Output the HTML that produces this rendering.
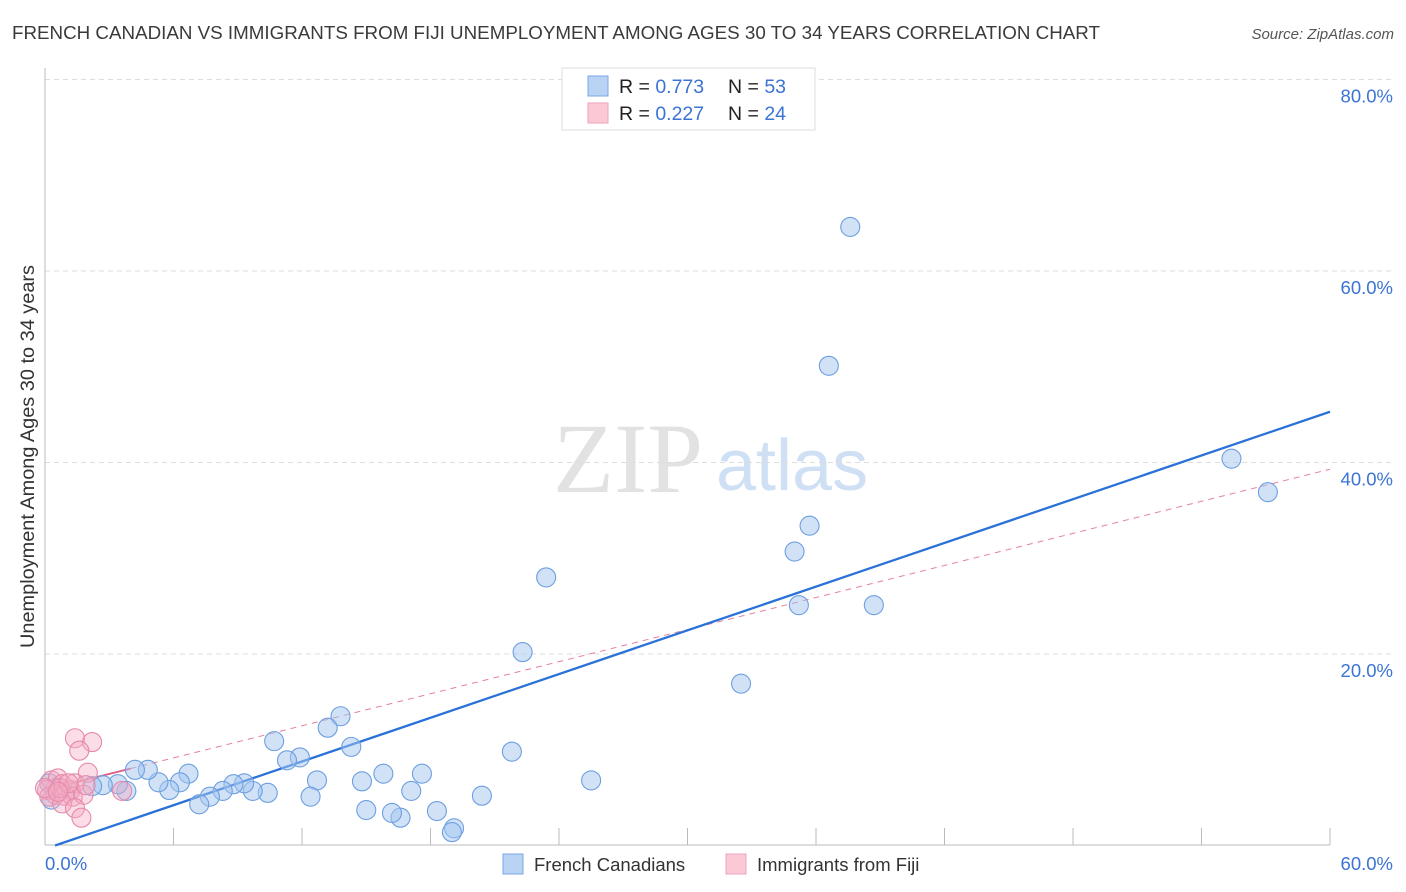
<!DOCTYPE html>
<html><head><meta charset="utf-8"><style>
body{margin:0;background:#fff;font-family:"Liberation Sans",sans-serif}
svg{display:block}
</style></head><body>
<svg id="chart" width="1406" height="892" viewBox="0 0 1406 892" xmlns="http://www.w3.org/2000/svg">
<text x="12" y="39" font-size="18.5" fill="#3a3a3a" textLength="1088" lengthAdjust="spacingAndGlyphs" font-family="Liberation Sans, sans-serif">FRENCH CANADIAN VS IMMIGRANTS FROM FIJI UNEMPLOYMENT AMONG AGES 30 TO 34 YEARS CORRELATION CHART</text>
<text x="1394" y="39" font-size="15" font-style="italic" fill="#555" text-anchor="end">Source: ZipAtlas.com</text>
<g>
<text x="553" y="492" font-size="100" font-family="Liberation Serif, serif" fill="#e2e2e2">ZIP</text>
<text x="716" y="490" font-size="72" fill="#cfe0f5">atlas</text>
</g>
<g id="grid"></g>
<g id="axes"></g>
<g id="lines"></g>
<g id="points"></g>
<text transform="translate(34,648) rotate(-90)" font-size="19" fill="#333" textLength="383" lengthAdjust="spacingAndGlyphs">Unemployment Among Ages 30 to 34 years</text>
<g>
<rect x="562" y="68" width="253" height="62" fill="#fff" stroke="#ddd"/>
<rect x="588" y="76" width="20" height="20" fill="#b9d3f5" stroke="#7aa7e6"/>
<rect x="588" y="103" width="20" height="20" fill="#fbc8d6" stroke="#eea3ba"/>
<text x="619" y="93" font-size="19.5" fill="#222">R = <tspan fill="#3b74d4">0.773</tspan><tspan x="728">N = </tspan><tspan fill="#3b74d4">53</tspan></text>
<text x="619" y="120" font-size="19.5" fill="#222">R = <tspan fill="#3b74d4">0.227</tspan><tspan x="728">N = </tspan><tspan fill="#3b74d4">24</tspan></text>
</g>
<g>
<rect x="503" y="854" width="20" height="20" fill="#b9d3f5" stroke="#7aa7e6"/>
<text x="534" y="871" font-size="18.5" fill="#333">French Canadians</text>
<rect x="726" y="854" width="20" height="20" fill="#fbc8d6" stroke="#eea3ba"/>
<text x="757" y="871" font-size="18.5" fill="#333">Immigrants from Fiji</text>
</g>
</svg>
<script>
const blueX=[37.6,36.6,55.4,57.1,35.7,35.0,35.2,38.7,23.4,22.3,32.5,21.8,25.5,20.4,19.1,19.0,18.3,17.6,17.1,16.6,16.2,15.8,15.0,14.8,14.3,13.8,13.2,12.7,12.4,11.9,11.3,10.7,10.4,9.7,9.3,8.8,8.3,7.7,7.2,6.7,6.3,5.8,5.3,4.8,4.2,3.8,3.4,2.7,2.2,1.2,0.5,0.2,0.3];
const blueY=[64.6,50.1,40.4,36.9,33.4,30.7,25.1,25.1,28.0,20.2,16.9,9.8,6.8,5.2,1.8,1.4,3.6,7.5,5.7,2.9,3.4,7.5,3.7,6.7,10.3,13.5,12.3,6.8,5.1,9.2,8.9,10.9,5.5,5.7,6.5,6.4,5.7,5.1,4.3,7.5,6.6,5.8,6.6,7.9,7.9,5.7,6.4,6.3,6.2,5.8,6.0,6.5,4.8];
const pinkX=[1.4,2.2,1.6,2.0,0.3,0.6,0.8,1.2,1.4,0.1,0.5,0.2,0.9,1.3,1.8,0.8,1.4,1.7,3.6,1.9,0.7,1.1,0.0,0.6];
const pinkY=[11.2,10.8,9.9,7.6,6.8,7.0,6.4,5.8,6.5,5.8,5.3,5.1,5.2,5.1,5.3,4.4,3.9,2.9,5.7,6.3,6.0,6.5,6.0,5.6];
const blueTrend=[0.47,0,60,45.3];
const pinkTrend=[0,5.8,60,39.3];
const yTicks=[20,40,60,80];
const yTickLabels=["20.0%","40.0%","60.0%","80.0%"];
const xTicks=[0,6,12,18,24,30,36,42,48,54,60];
const NS="http://www.w3.org/2000/svg";
const sx=v=>45+v*(1285/60);
const sy=v=>845.5-v*9.575;
function mk(tag,attrs,parent){const e=document.createElementNS(NS,tag);for(const k in attrs)e.setAttribute(k,attrs[k]);parent.appendChild(e);return e;}
const grid=document.getElementById('grid'),axes=document.getElementById('axes'),lines=document.getElementById('lines'),pts=document.getElementById('points');
yTicks.forEach((t,i)=>{
 const l=mk('line',{x1:45,x2:1393,y1:sy(t),y2:sy(t),stroke:'#ddd','stroke-dasharray':'5,4'},grid);
 
 
 const tx=mk('text',{x:1393,y:sy(t)+23,'text-anchor':'end','font-size':18.5,fill:'#3b74d4'},grid);
 tx.textContent=yTickLabels[i];
 
 
});
mk('line',{x1:45,x2:45,y1:68,y2:845,stroke:'#bbb'},axes);
mk('line',{x1:45,x2:1330,y1:845,y2:845,stroke:'#bbb'},axes);
xTicks.forEach(t=>{
 const l=mk('line',{x1:sx(t),x2:sx(t),y1:828,y2:845,stroke:'#bbb'},axes);
 
 
});
const xl0=mk('text',{x:45,y:870,'font-size':18.5,fill:'#3b74d4'},axes);xl0.textContent='0.0%';


const xl1=mk('text',{x:1393,y:870,'font-size':18.5,fill:'#3b74d4','text-anchor':'end'},axes);xl1.textContent='60.0%';


const pl=mk('line',{x1:sx(pinkTrend[0]),y1:sy(pinkTrend[1]),x2:sx(pinkTrend[2]),y2:sy(pinkTrend[3]),stroke:'#e87fa0','stroke-width':1,'stroke-dasharray':'6,5'},lines);


const ps=mk('line',{x1:sx(0),y1:sy(pinkTrend[1]),x2:sx(4),y2:sy(pinkTrend[1]+(pinkTrend[3]-pinkTrend[1])*4/60),stroke:'#e0608a','stroke-width':2},lines);


const bl=mk('line',{x1:sx(blueTrend[0]),y1:sy(blueTrend[1]),x2:sx(blueTrend[2]),y2:sy(blueTrend[3]),stroke:'#2a72d8','stroke-width':2.3},lines);


blueX.forEach((x,i)=>{
 const c=mk('circle',{cx:sx(x),cy:sy(blueY[i]),r:9.5,fill:'rgba(164,198,240,0.5)',stroke:'#6d9fe0','stroke-width':1.1},pts);
 
 
});
pinkX.forEach((x,i)=>{
 const c=mk('circle',{cx:sx(x),cy:sy(pinkY[i]),r:9.5,fill:'rgba(245,170,195,0.4)',stroke:'#e58aa8','stroke-width':1.1},pts);
 
 
});
</script>
</body></html>
